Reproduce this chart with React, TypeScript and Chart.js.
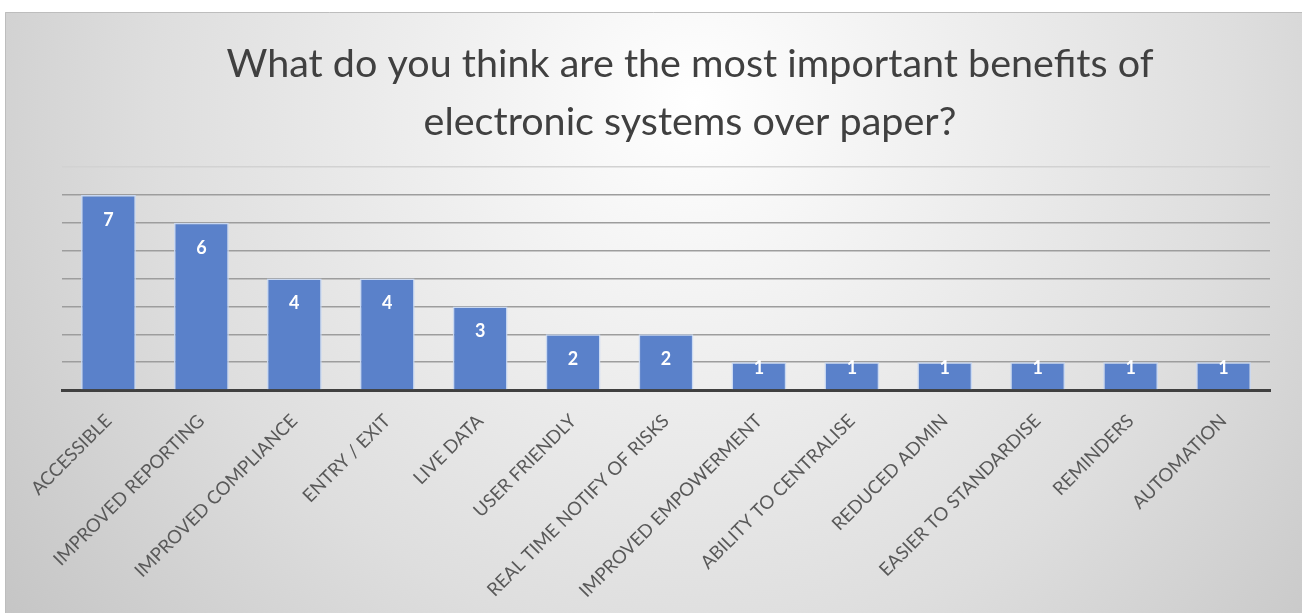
import React, { useEffect, useRef } from "react";
import { Chart, registerables } from "chart.js";

Chart.register(...registerables);

const titleLines = [
  "What do you think are the most important benefits of",
  "electronic systems over paper?",
];

const categories = [
  "ACCESSIBLE",
  "IMPROVED REPORTING",
  "IMPROVED COMPLIANCE",
  "ENTRY / EXIT",
  "LIVE DATA",
  "USER FRIENDLY",
  "REAL TIME NOTIFY OF RISKS",
  "IMPROVED EMPOWERMENT",
  "ABILITY TO CENTRALISE",
  "REDUCED ADMIN",
  "EASIER TO STANDARDISE",
  "REMINDERS",
  "AUTOMATION",
];

const counts = [7, 6, 4, 4, 3, 2, 2, 1, 1, 1, 1, 1, 1];

const yMin = 0;
const yMax = 8;
const yStep = 1;

const backgroundPlugin = {
  id: "bgGradient",
  beforeDraw(chart: any) {
    const { ctx, width, height } = chart;
    ctx.save();
    const g = ctx.createRadialGradient(690, 90, 0, 690, 90, 900);
    g.addColorStop(0, "#ffffff");
    g.addColorStop(0.25, "#f1f1f1");
    g.addColorStop(0.6, "#dedede");
    g.addColorStop(1, "#c2c2c2");
    ctx.fillStyle = g;
    ctx.fillRect(0, 0, width, height);
    ctx.strokeStyle = "#bdbdbd";
    ctx.lineWidth = 1;
    ctx.beginPath();
    ctx.moveTo(0.5, height);
    ctx.lineTo(0.5, 0.5);
    ctx.lineTo(width, 0.5);
    ctx.stroke();
    ctx.restore();
  },
};

const titlePlugin = {
  id: "customTitle",
  afterDraw(chart: any) {
    const { ctx } = chart;
    ctx.save();
    ctx.fillStyle = "#404040";
    ctx.font = "400 39.5px Lato";
    ctx.textAlign = "center";
    ctx.textBaseline = "middle";
    titleLines.forEach((line, i) => {
      ctx.fillText(line, 685, 52 + i * 58);
    });
    ctx.restore();
  },
};

const labelPlugin = {
  id: "barLabels",
  afterDatasetsDraw(chart: any) {
    const { ctx } = chart;
    const meta = chart.getDatasetMeta(0);
    ctx.save();
    ctx.fillStyle = "#ffffff";
    ctx.font = "bold 18px Lato";
    ctx.textAlign = "center";
    ctx.textBaseline = "middle";
    meta.data.forEach((bar: any, i: number) => {
      const h = bar.base - bar.y;
      const y = h > 40 ? bar.y + 25 : bar.y + 6;
      ctx.fillText(String(counts[i]), bar.x, y);
    });
    ctx.restore();
  },
};

export default function App() {
  const ref = useRef<HTMLCanvasElement | null>(null);

  useEffect(() => {
    if (!ref.current) return;
    const chart = new Chart(ref.current, {
      type: "bar",
      data: {
        labels: categories,
        datasets: [
          {
            data: counts,
            backgroundColor: "#5A81CA",
            borderColor: "rgba(200,216,242,0.95)",
            borderWidth: 1.5,
            categoryPercentage: 1,
            barPercentage: 0.59,
          },
        ],
      },
      options: {
        animation: false,
        responsive: true,
        maintainAspectRatio: false,
        layout: { padding: { top: 155, left: 57, right: 32, bottom: 0 } },
        plugins: {
          legend: { display: false },
          title: { display: false },
          tooltip: { enabled: false },
        },
        scales: {
          x: {
            z: 1,
            grid: { display: false },
            border: { display: true, color: "#404040", width: 3 },
            ticks: {
              color: "#595959",
              font: { family: "Lato", size: 18.5 },
              minRotation: 45,
              maxRotation: 45,
              autoSkip: false,
              padding: 12,
            },
            afterFit(scale: any) {
              scale.height = 223;
            },
          },
          y: {
            min: yMin,
            max: yMax,
            ticks: { display: false, stepSize: yStep },
            border: { display: false },
            grid: {
              drawTicks: false,
              lineWidth: 1.5,
              color: (ctx: any) =>
                ctx.tick && ctx.tick.value === 0
                  ? "rgba(0,0,0,0)"
                  : ctx.tick && ctx.tick.value === yMax
                  ? "#d2d2d2"
                  : "#9d9d9d",
            },
            afterFit(scale: any) {
              scale.width = 0;
            },
          },
        },
      },
      plugins: [backgroundPlugin, titlePlugin, labelPlugin],
    });
    return () => chart.destroy();
  }, []);

  return (
    <div
      style={{
        position: "absolute",
        left: 5,
        top: 12,
        width: 1297,
        height: 601,
      }}
    >
      <canvas ref={ref} />
    </div>
  );
}
